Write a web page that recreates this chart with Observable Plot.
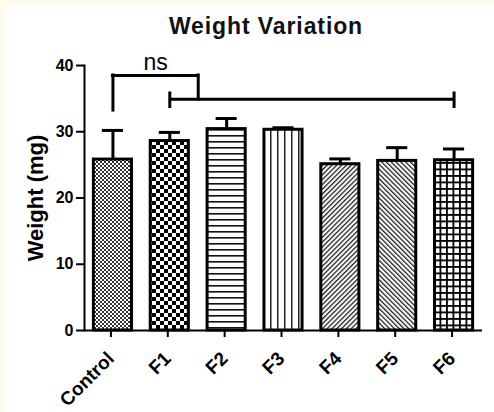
<!DOCTYPE html>
<html>
<head>
<meta charset="utf-8">
<script src="https://cdn.jsdelivr.net/npm/d3@7"></script>
<script src="https://cdn.jsdelivr.net/npm/@observablehq/plot@0.6"></script>
<style>
  html, body { margin: 0; padding: 0; background: #fffbea; }
  #wrap { position: absolute; left: 4px; top: 5px; width: 490px; height: 407px; background: #ffffff; overflow: hidden; }
  #title { box-sizing: border-box; height: 40px; padding-top: 10px; padding-left: 34px; text-align: center;
           font: bold 23px/23px "Liberation Sans", Arial, sans-serif; letter-spacing: 0.9px; color: #111; }
  #chart svg { display: block; }
</style>
</head>
<body>
<div id="wrap">
  <div id="title"></div>
  <div id="chart"></div>
</div>
<script>
// ---- data ----
const titleText = "Weight Variation";
const yLabel = "Weight (mg)";
const categories = ["Control", "F1", "F2", "F3", "F4", "F5", "F6"];
const meanWeight = [25.8, 28.6, 30.4, 30.3, 25.1, 25.6, 25.7];
const upperError = [30.2, 29.9, 32.0, 30.6, 25.9, 27.6, 27.4];
const patternIds = ["pControl", "pF1", "pF2", "pF3", "pF4", "pF5", "pF6"];
const yDomain = [0, 40];
const yTicks = [0, 10, 20, 30, 40];
// significance brackets
const nsLabel = "ns";
const nsFrom = "Control";
const nsTo = "F1";          // right leg sits halfway between F1 and F2
const nsTop = 38.5;
const nsLeftBottom = 33.2;
const nsLabelY = 39.3;
const longFrom = "F1";
const longTo = "F6";
const longY = 34.9;
const longTickLo = 33.5;
const longTickHi = 36.0;

// ---- layout ----
const W = 490, H = 367, ML = 80, MR = 12, MT = 20, MB = 82, PAD = 0.33;
const step = (W - ML - MR) / categories.length;
const bw = step * (1 - PAD);
const yMid = (yDomain[0] + yDomain[1]) / 2;

document.getElementById("title").textContent = titleText;

const data = categories.map((c, i) => ({
  name: c, mean: meanWeight[i], hi: upperError[i], fill: `url(#${patternIds[i]})`
}));

const font = '"Liberation Sans", Arial, sans-serif';

const svg = Plot.plot({
  width: W, height: H,
  marginLeft: ML, marginRight: MR, marginTop: MT, marginBottom: MB,
  style: { fontFamily: font, background: "transparent", color: "black", overflow: "visible" },
  x: { domain: categories, paddingInner: PAD, paddingOuter: PAD / 2, round: false, axis: null },
  y: { domain: yDomain, axis: null },
  color: { type: "identity" },
  marks: [
    Plot.barY(data, { x: "name", y: "mean", fill: "fill", stroke: "black", strokeWidth: 3 }),
    Plot.ruleX(data, { x: "name", y1: "mean", y2: "hi", stroke: "black", strokeWidth: 3 }),
    Plot.tickY(data, { x: "name", y: "hi", stroke: "black", strokeWidth: 3, insetLeft: 8.5, insetRight: 8.5 }),
    // axes lines
    Plot.ruleY([0], { stroke: "black", strokeWidth: 2 }),
    Plot.frame({ anchor: "left", stroke: "black", strokeWidth: 2 }),
    Plot.axisY(yTicks, { tickSize: 8, tickPadding: 3, fontSize: 16, fontWeight: "bold", strokeWidth: 2, label: null }),
    Plot.axisX({ tickRotate: -45, tickSize: 7, tickPadding: 18, dx: -2, fontSize: 19, fontWeight: "bold", strokeWidth: 2, label: null }),
    Plot.text([yLabel], { y: () => yMid, frameAnchor: "left", textAnchor: "middle", dx: -49, rotate: -90, fontSize: 22, fontWeight: "bold" }),
    // ns bracket
    Plot.ruleX([{ x: nsFrom }], { x: "x", y1: nsLeftBottom, y2: nsTop, strokeWidth: 3, strokeLinecap: "square" }),
    Plot.ruleY([{ a: nsFrom, b: nsTo }], { x1: "a", x2: "b", y: nsTop, strokeWidth: 3, strokeLinecap: "square",
      insetLeft: bw / 2, insetRight: bw / 2 - step / 2 }),
    Plot.ruleX([{ x: nsTo }], { x: "x", y1: longY, y2: nsTop, dx: step / 2, strokeWidth: 3, strokeLinecap: "square" }),
    Plot.text([{ x: nsFrom, t: nsLabel }], { x: "x", y: nsLabelY, text: "t", dx: 0.75 * step, lineAnchor: "bottom", fontSize: 23 }),
    // long bracket
    Plot.ruleY([{ a: longFrom, b: longTo }], { x1: "a", x2: "b", y: longY, strokeWidth: 3,
      insetLeft: bw / 2, insetRight: bw / 2 }),
    Plot.ruleX([longFrom, longTo], { x: d => d, y1: longTickLo, y2: longTickHi, strokeWidth: 3 })
  ]
});

// ---- fill patterns ----
const defs = d3.select(svg).insert("defs", ":first-child");
function pattern(id, w, h, transform) {
  const p = defs.append("pattern").attr("id", id).attr("patternUnits", "userSpaceOnUse")
    .attr("width", w).attr("height", h);
  if (transform) p.attr("patternTransform", transform);
  p.append("rect").attr("width", w).attr("height", h).attr("fill", "#fff");
  return p;
}
let p = pattern("pControl", 4, 4);
p.append("rect").attr("width", 2).attr("height", 2).attr("fill", "#333");
p.append("rect").attr("x", 2).attr("y", 2).attr("width", 2).attr("height", 2).attr("fill", "#333");
p = pattern("pF1", 8, 8);
p.append("rect").attr("width", 4).attr("height", 4).attr("fill", "#000");
p.append("rect").attr("x", 4).attr("y", 4).attr("width", 4).attr("height", 4).attr("fill", "#000");
p = pattern("pF2", 6, 6);
p.append("rect").attr("width", 6).attr("height", 1.6).attr("fill", "#111");
p = pattern("pF3", 7, 7);
p.append("rect").attr("width", 1.5).attr("height", 7).attr("fill", "#222");
p = pattern("pF4", 3.4, 3.4, "rotate(45)");
p.append("rect").attr("width", 1.3).attr("height", 3.4).attr("fill", "#222");
p = pattern("pF5", 3.4, 3.4, "rotate(-45)");
p.append("rect").attr("width", 1.3).attr("height", 3.4).attr("fill", "#222");
p = pattern("pF6", 6.5, 6.5);
p.append("rect").attr("width", 6.5).attr("height", 1.8).attr("fill", "#000");
p.append("rect").attr("width", 1.8).attr("height", 6.5).attr("fill", "#000");

document.getElementById("chart").appendChild(svg);
</script>
</body>
</html>
